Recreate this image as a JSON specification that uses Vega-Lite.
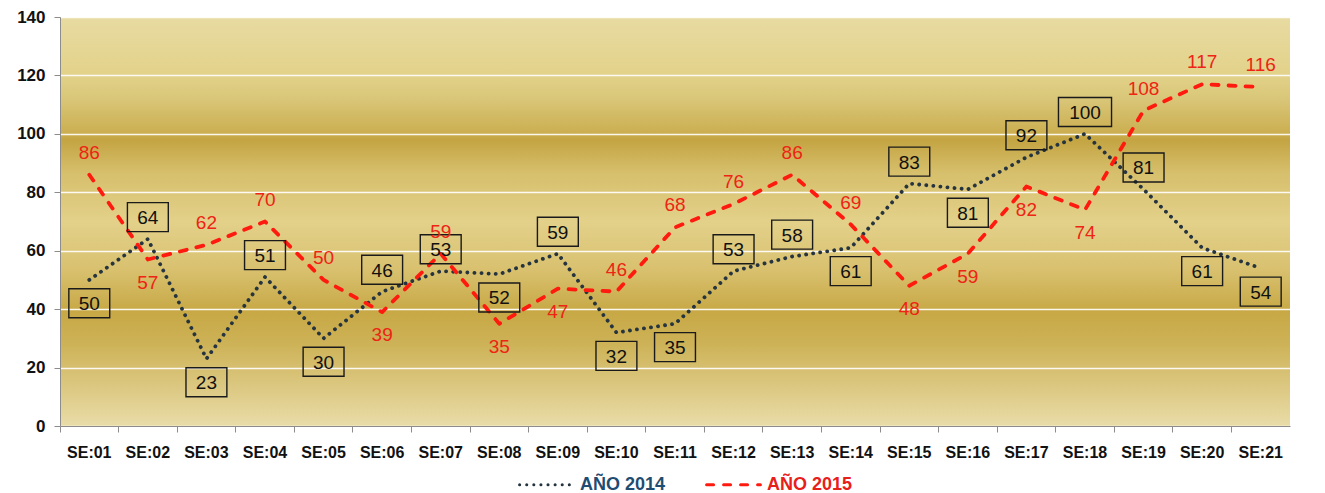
{
  "$schema": "https://vega.github.io/schema/vega-lite/v6.json",
  "autosize": {"type": "none"},
  "width": 1230,
  "height": 409,
  "padding": {"left": 60, "top": 17, "right": 35, "bottom": 67},
  "background": "white",
  "view": {
    "stroke": null,
    "fill": {
      "gradient": "linear", "x1": 0, "y1": 0, "x2": 0, "y2": 1,
      "stops": [
        {"offset": 0.0, "color": "#e8dba2"},
        {"offset": 0.14, "color": "#e2d28a"},
        {"offset": 0.2, "color": "#d9c678"},
        {"offset": 0.285, "color": "#cbae50"},
        {"offset": 0.3, "color": "#c4a442"},
        {"offset": 0.38, "color": "#d6bf6c"},
        {"offset": 0.5, "color": "#e3d18a"},
        {"offset": 0.62, "color": "#d8c06e"},
        {"offset": 0.72, "color": "#c7a845"},
        {"offset": 0.8, "color": "#cdb257"},
        {"offset": 1.0, "color": "#e9dca8"}
      ]
    }
  },
  "config": {
    "font": "Liberation Sans",
    "axis": {
      "domainColor": "#8c8c8c",
      "tickColor": "#8c8c8c",
      "labelFont": "Liberation Sans",
      "labelFontWeight": "bold",
      "labelColor": "#111111",
      "title": null
    }
  },
  "data": {
    "values": [
      {"se": "SE:01", "serie": "AÑO 2014", "v": 50},
      {"se": "SE:02", "serie": "AÑO 2014", "v": 64},
      {"se": "SE:03", "serie": "AÑO 2014", "v": 23},
      {"se": "SE:04", "serie": "AÑO 2014", "v": 51},
      {"se": "SE:05", "serie": "AÑO 2014", "v": 30},
      {"se": "SE:06", "serie": "AÑO 2014", "v": 46},
      {"se": "SE:07", "serie": "AÑO 2014", "v": 53},
      {"se": "SE:08", "serie": "AÑO 2014", "v": 52},
      {"se": "SE:09", "serie": "AÑO 2014", "v": 59},
      {"se": "SE:10", "serie": "AÑO 2014", "v": 32},
      {"se": "SE:11", "serie": "AÑO 2014", "v": 35},
      {"se": "SE:12", "serie": "AÑO 2014", "v": 53},
      {"se": "SE:13", "serie": "AÑO 2014", "v": 58},
      {"se": "SE:14", "serie": "AÑO 2014", "v": 61},
      {"se": "SE:15", "serie": "AÑO 2014", "v": 83},
      {"se": "SE:16", "serie": "AÑO 2014", "v": 81},
      {"se": "SE:17", "serie": "AÑO 2014", "v": 92},
      {"se": "SE:18", "serie": "AÑO 2014", "v": 100},
      {"se": "SE:19", "serie": "AÑO 2014", "v": 81},
      {"se": "SE:20", "serie": "AÑO 2014", "v": 61},
      {"se": "SE:21", "serie": "AÑO 2014", "v": 54},
      {"se": "SE:01", "serie": "AÑO 2015", "v": 86},
      {"se": "SE:02", "serie": "AÑO 2015", "v": 57},
      {"se": "SE:03", "serie": "AÑO 2015", "v": 62},
      {"se": "SE:04", "serie": "AÑO 2015", "v": 70},
      {"se": "SE:05", "serie": "AÑO 2015", "v": 50},
      {"se": "SE:06", "serie": "AÑO 2015", "v": 39},
      {"se": "SE:07", "serie": "AÑO 2015", "v": 59},
      {"se": "SE:08", "serie": "AÑO 2015", "v": 35},
      {"se": "SE:09", "serie": "AÑO 2015", "v": 47},
      {"se": "SE:10", "serie": "AÑO 2015", "v": 46},
      {"se": "SE:11", "serie": "AÑO 2015", "v": 68},
      {"se": "SE:12", "serie": "AÑO 2015", "v": 76},
      {"se": "SE:13", "serie": "AÑO 2015", "v": 86},
      {"se": "SE:14", "serie": "AÑO 2015", "v": 69},
      {"se": "SE:15", "serie": "AÑO 2015", "v": 48},
      {"se": "SE:16", "serie": "AÑO 2015", "v": 59},
      {"se": "SE:17", "serie": "AÑO 2015", "v": 82},
      {"se": "SE:18", "serie": "AÑO 2015", "v": 74},
      {"se": "SE:19", "serie": "AÑO 2015", "v": 108},
      {"se": "SE:20", "serie": "AÑO 2015", "v": 117},
      {"se": "SE:21", "serie": "AÑO 2015", "v": 116}
    ]
  },
  "transform": [
    {"window": [{"op": "lag", "field": "v", "as": "prev"}, {"op": "lead", "field": "v", "as": "next"}], "groupby": ["serie"], "sort": [{"field": "se"}]},
    {"joinaggregate": [{"op": "max", "field": "v", "as": "mx"}], "groupby": ["se"]},
    {"calculate": "isValid(datum.prev) && isValid(datum.next) ? (datum.prev + datum.next) / 2 : (isValid(datum.prev) ? datum.prev : datum.next)", "as": "nb"},
    {"calculate": "datum.serie === 'AÑO 2014' ? (datum.v >= datum.nb) : (datum.v >= datum.mx)", "as": "up"},
    {"calculate": "datum.up ? datum.v + 7.5 : datum.v - 8", "as": "ly"}
  ],
  "encoding": {
    "x": {
      "field": "se", "type": "ordinal",
      "scale": {"type": "band", "paddingInner": 0, "paddingOuter": 0},
      "axis": {"labelAngle": 0, "labelFontSize": 16, "tickSize": 6, "bandPosition": 0, "labelPadding": 12, "grid": false}
    }
  },
  "layer": [
    {
      "mark": {"type": "line", "interpolate": "linear", "strokeWidth": 3.8, "strokeCap": "round", "strokeJoin": "round"},
      "encoding": {
        "y": {
          "field": "v", "type": "quantitative",
          "scale": {"domain": [0, 140], "nice": false},
          "axis": {"values": [0, 20, 40, 60, 80, 100, 120, 140], "labelFontSize": 17, "tickSize": 6, "labelPadding": 9, "grid": true, "gridColor": "#ffffff", "gridWidth": 1.5, "gridOpacity": 0.9}
        },
        "color": {
          "field": "serie", "type": "nominal",
          "scale": {"domain": ["AÑO 2014", "AÑO 2015"], "range": ["#25343e", "#ff1a0f"]},
          "legend": {
            "title": null, "orient": "none", "direction": "horizontal",
            "legendX": 458, "legendY": 439,
            "labelFontSize": 18, "labelFontWeight": "bold", "labelFont": "Liberation Sans",
            "symbolType": "stroke", "symbolSize": 2900, "symbolStrokeWidth": 3,
            "columnPadding": 34, "labelOffset": 5,
            "encode": {
              "labels": {"update": {"fill": {"signal": "datum.value === 'AÑO 2014' ? '#1f4d72' : '#e8201a'"}}},
              "symbols": {"update": {"strokeCap": {"value": "round"}}}
            }
          }
        },
        "strokeDash": {
          "field": "serie", "type": "nominal",
          "scale": {"domain": ["AÑO 2014", "AÑO 2015"], "range": [[0.1, 7], [7, 10]]},
          "legend": null
        }
      }
    },
    {
      "transform": [{"filter": "datum.serie === 'AÑO 2014'"}],
      "mark": {"type": "point", "filled": false, "stroke": "#1a1a1a", "strokeWidth": 1.4, "opacity": 1},
      "encoding": {
        "y": {"field": "ly", "type": "quantitative"},
        "size": {"value": 841},
        "shape": {
          "condition": {"test": "datum.v >= 100", "value": "M-1.83,-1L1.83,-1L1.83,1L-1.83,1Z"},
          "value": "M-1.41,-1L1.41,-1L1.41,1L-1.41,1Z"
        }
      }
    },
    {
      "transform": [{"filter": "datum.serie === 'AÑO 2014'"}],
      "mark": {"type": "text", "fontSize": 19, "color": "#111111", "baseline": "middle", "dy": 1},
      "encoding": {
        "y": {"field": "ly", "type": "quantitative"},
        "text": {"field": "v", "type": "quantitative"}
      }
    },
    {
      "transform": [{"filter": "datum.serie === 'AÑO 2015'"}],
      "mark": {"type": "text", "fontSize": 19, "color": "#ee2414", "baseline": "middle"},
      "encoding": {
        "y": {"field": "ly", "type": "quantitative"},
        "text": {"field": "v", "type": "quantitative"}
      }
    }
  ]
}
